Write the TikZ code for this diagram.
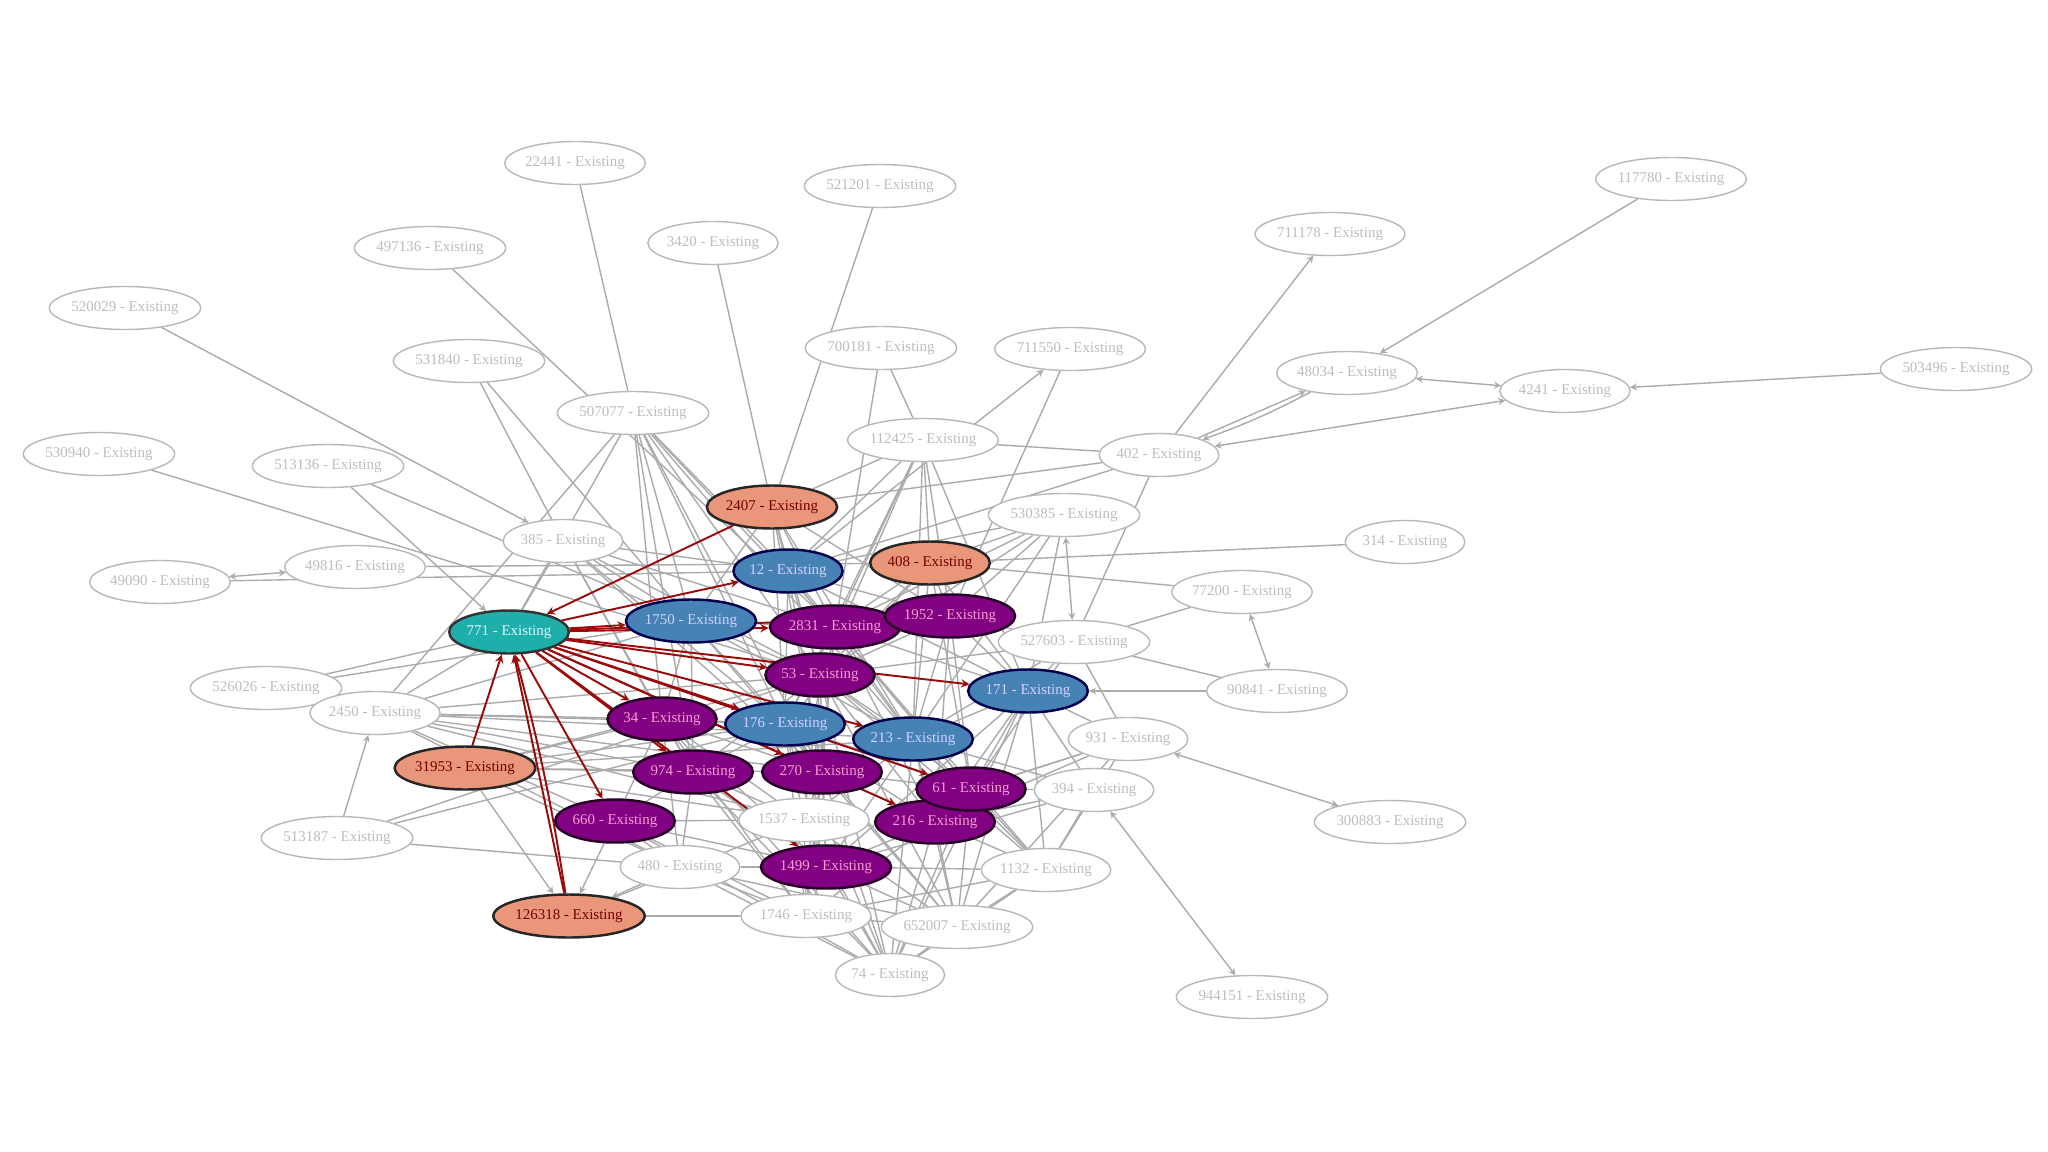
\documentclass[tikz,border=0pt]{standalone}
\usepackage{fontspec}
\setmainfont{Liberation Serif}
\usepackage{tikz}
\usetikzlibrary{arrows.meta, shapes.geometric, backgrounds}
\definecolor{linkGray}{HTML}{ABABAB}
\definecolor{idleText}{HTML}{BDBDBD}
\definecolor{idleLine}{HTML}{B8B8B8}
\definecolor{rootFill}{HTML}{1FAEAA}
\definecolor{salmonFill}{HTML}{E9967A}
\definecolor{steelFill}{HTML}{4682B4}
\definecolor{plumFill}{HTML}{820082}
\definecolor{redLink}{HTML}{9A0A0A}
\tikzstyle{gNode} = [ellipse, inner sep=0pt, minimum height=0.86cm, font=\fontsize{8.5}{10}\selectfont]
\tikzstyle{gIdle} = [gNode, draw=idleLine, fill=white, text=idleText, line width=0.8pt]
\tikzstyle{gRoot} = [gNode, draw=black!80, fill=rootFill, text=cyan!12, line width=1.4pt]
\tikzstyle{gSalmon} = [gNode, draw=black!85, fill=salmonFill, text=red!45!black, line width=1.4pt]
\tikzstyle{gSteel} = [gNode, draw=blue!30!black, fill=steelFill, text=blue!18, line width=1.4pt]
\tikzstyle{gPlum} = [gNode, draw=violet!30!black, fill=plumFill, text=magenta!38, line width=1.4pt]
\tikzstyle{gLink} = [draw=linkGray, line width=0.8pt]
\tikzstyle{gArrow} = [gLink, ->, >=stealth]
\tikzstyle{gBoth} = [gLink, <->, >=stealth]
\tikzstyle{gRed} = [draw=redLink, line width=1.1pt, ->, >=stealth]

\begin{document}
\begin{tikzpicture}[x=0.02cm, y=-0.02cm]
    \useasboundingbox (0,0) rectangle (2048,1152);
    % outer ring
    \node (n22441) [gIdle] at (575,163) {22441 - Existing};
    \node (n521201) [gIdle] at (880,186) {521201 - Existing};
    \node (n3420) [gIdle] at (713,243) {3420 - Existing};
    \node (n497136) [gIdle] at (430,248) {497136 - Existing};
    \node (n520029) [gIdle] at (125,308) {520029 - Existing};
    \node (n531840) [gIdle] at (469,361) {531840 - Existing};
    \node (n507077) [gIdle] at (633,413) {507077 - Existing};
    \node (n700181) [gIdle] at (881,348) {700181 - Existing};
    \node (n711550) [gIdle] at (1070,349) {711550 - Existing};
    \node (n711178) [gIdle] at (1330,234) {711178 - Existing};
    \node (n117780) [gIdle] at (1671,179) {117780 - Existing};
    \node (n48034) [gIdle] at (1347,373) {48034 - Existing};
    \node (n4241) [gIdle] at (1565,391) {4241 - Existing};
    \node (n503496) [gIdle] at (1956,369) {503496 - Existing};
    \node (n112425) [gIdle] at (923,440) {112425 - Existing};
    \node (n402) [gIdle] at (1159,455) {402 - Existing};
    \node (n530940) [gIdle] at (99,454) {530940 - Existing};
    \node (n513136) [gIdle] at (328,466) {513136 - Existing};
    \node (n385) [gIdle] at (563,541) {385 - Existing};
    \node (n530385) [gIdle] at (1064,515) {530385 - Existing};
    \node (n314) [gIdle] at (1405,542) {314 - Existing};
    \node (n49090) [gIdle] at (160,582) {49090 - Existing};
    \node (n49816) [gIdle] at (355,567) {49816 - Existing};
    \node (n77200) [gIdle] at (1242,592) {77200 - Existing};
    \node (n527603) [gIdle] at (1074,642) {527603 - Existing};
    \node (n90841) [gIdle] at (1277,691) {90841 - Existing};
    \node (n526026) [gIdle] at (266,688) {526026 - Existing};
    \node (n2450) [gIdle] at (375,713) {2450 - Existing};
    \node (n931) [gIdle] at (1128,739) {931 - Existing};
    \node (n394) [gIdle] at (1094,790) {394 - Existing};
    \node (n300883) [gIdle] at (1390,822) {300883 - Existing};
    \node (n513187) [gIdle] at (337,838) {513187 - Existing};
    \node (n1537) [gIdle] at (804,820) {1537 - Existing};
    \node (n480) [gIdle] at (680,867) {480 - Existing};
    \node (n1132) [gIdle] at (1046,870) {1132 - Existing};
    \node (n1746) [gIdle] at (806,916) {1746 - Existing};
    \node (n652007) [gIdle] at (957,927) {652007 - Existing};
    \node (n74) [gIdle] at (890,975) {74 - Existing};
    \node (n944151) [gIdle] at (1252,997) {944151 - Existing};
    % highlighted nodes
    \node (n2407) [gSalmon] at (772,507) {2407 - Existing};
    \node (n408) [gSalmon] at (930,563) {408 - Existing};
    \node (n31953) [gSalmon] at (465,768) {31953 - Existing};
    \node (n126318) [gSalmon] at (569,916) {126318 - Existing};
    \node (n12) [gSteel] at (788,571) {12 - Existing};
    \node (n1750) [gSteel] at (691,621) {1750 - Existing};
    \node (n171) [gSteel] at (1028,691) {171 - Existing};
    \node (n176) [gSteel] at (785,724) {176 - Existing};
    \node (n213) [gSteel] at (913,739) {213 - Existing};
    \node (n2831) [gPlum] at (835,627) {2831 - Existing};
    \node (n1952) [gPlum] at (950,616) {1952 - Existing};
    \node (n53) [gPlum] at (820,675) {53 - Existing};
    \node (n34) [gPlum] at (662,719) {34 - Existing};
    \node (n974) [gPlum] at (693,772) {974 - Existing};
    \node (n270) [gPlum] at (822,772) {270 - Existing};
    \node (n216) [gPlum] at (935,822) {216 - Existing};
    \node (n61) [gPlum] at (971,789) {61 - Existing};
    \node (n660) [gPlum] at (615,821) {660 - Existing};
    \node (n1499) [gPlum] at (826,867) {1499 - Existing};
    \node (n771) [gRoot] at (509,632) {771 - Existing};

    \begin{pgfonlayer}{background}
    % outer links
    \draw [gLink] (n22441) -- (n507077);
    \draw [gLink] (n3420) -- (n2407);
    \draw [gLink] (n521201) -- (n2407);
    \draw [gLink] (n497136) -- (n2831);
    \draw [gArrow] (n520029) -- (n385);
    \draw [gLink] (n531840) -- (n385);
    \draw [gLink] (n531840) -- (n1750);
    \draw [gLink] (n530940) -- (n53);
    \draw [gArrow] (n513136) -- (n771);
    \draw [gLink] (n513136) -- (n1750);
    \draw [gBoth] (n49090) -- (n49816);
    \draw [gLink] (n49090) -- (n12);
    \draw [gLink] (n49816) -- (n408);
    \draw [gLink] (n526026) -- (n771);
    \draw [gLink] (n526026) -- (n1750);
    \draw [gArrow] (n513187) -- (n2450);
    \draw [gLink] (n513187) -- (n176);
    \draw [gLink] (n513187) -- (n53);
    \draw [gLink] (n513187) -- (n480);
    \draw [gArrow] (n31953) -- (n126318);
    \draw [gArrow] (n660) -- (n126318);
    \draw [gArrow] (n480) -- (n126318);
    \draw [gArrow] (n402) -- (n711178);
    \draw [gArrow] (n117780) -- (n48034);
    \draw [gBoth] (n48034) -- (n4241);
    \draw [gArrow] (n402) -- (n48034);
    \draw [gArrow] (n48034) to[bend left=4] (n402);
    \draw [gBoth] (n4241) -- (n402);
    \draw [gArrow] (n503496) -- (n4241);
    \draw [gArrow] (n12) -- (n711550);
    \draw [gLink] (n711550) -- (n1952);
    \draw [gLink] (n700181) -- (n112425);
    \draw [gLink] (n700181) -- (n2831);
    \draw [gLink] (n402) -- (n527603);
    \draw [gLink] (n402) -- (n12);
    \draw [gLink] (n402) -- (n112425);
    \draw [gLink] (n402) -- (n2407);
    \draw [gBoth] (n530385) -- (n527603);
    \draw [gLink] (n314) -- (n408);
    \draw [gLink] (n77200) -- (n408);
    \draw [gLink] (n77200) -- (n527603);
    \draw [gBoth] (n77200) -- (n90841);
    \draw [gLink] (n527603) -- (n90841);
    \draw [gArrow] (n90841) -- (n171);
    \draw [gBoth] (n931) -- (n300883);
    \draw [gBoth] (n394) -- (n944151);
    % dense core
    \draw [gLink] (n507077) edge (n34) edge (n1750) edge (n176) edge (n53) edge (n270) edge (n2831) edge (n12) edge (n2450) edge (n974) edge (n213);
    \draw [gLink] (n385) edge (n1750) edge (n34) edge (n12) edge (n2831) edge (n176) edge (n974) edge (n53) edge (n270);
    \draw [gLink] (n2407) edge (n12) edge (n1750) edge (n2831) edge (n53) edge (n176) edge (n1952) edge (n270) edge (n213);
    \draw [gLink] (n112425) edge (n12) edge (n2831) edge (n1952) edge (n53) edge (n171) edge (n2407) edge (n408) edge (n176) edge (n213);
    \draw [gLink] (n530385) edge (n1952) edge (n2831) edge (n408) edge (n171) edge (n12) edge (n53) edge (n213);
    \draw [gLink] (n408) edge (n1952) edge (n171) edge (n53) edge (n2831) edge (n213) edge (n176) edge (n61);
    \draw [gLink] (n12) edge (n1952) edge (n53) edge (n176) edge (n171) edge (n213) edge (n270) edge (n61);
    \draw [gLink] (n1750) edge (n53) edge (n176) edge (n34) edge (n2831) edge (n270) edge (n974) edge (n213);
    \draw [gLink] (n2831) edge (n171) edge (n176) edge (n213) edge (n61) edge (n270) edge (n216);
    \draw [gLink] (n1952) edge (n171) edge (n213) edge (n527603) edge (n61) edge (n53) edge (n216);
    \draw [gLink] (n53) edge (n213) edge (n270) edge (n61) edge (n216) edge (n974) edge (n1537) edge (n1499);
    \draw [gLink] (n171) edge (n213) edge (n61) edge (n216) edge (n1132) edge (n394) edge (n931) edge (n527603) edge (n652007) edge (n1499);
    \draw [gLink] (n34) edge (n974) edge (n660) edge (n1537) edge (n176) edge (n270) edge (n1499) edge (n480);
    \draw [gLink] (n176) edge (n270) edge (n974) edge (n1537) edge (n1499) edge (n216) edge (n61) edge (n1746);
    \draw [gLink] (n213) edge (n61) edge (n216) edge (n1537) edge (n1132) edge (n394) edge (n652007) edge (n1499) edge (n74);
    \draw [gLink] (n974) edge (n660) edge (n1537) edge (n1499) edge (n1746) edge (n480) edge (n74);
    \draw [gLink] (n270) edge (n1537) edge (n216) edge (n1499) edge (n1746) edge (n652007) edge (n74) edge (n61);
    \draw [gLink] (n61) edge (n216) edge (n1132) edge (n394) edge (n931) edge (n652007) edge (n74);
    \draw [gLink] (n216) edge (n1499) edge (n1132) edge (n652007) edge (n74) edge (n1746);
    \draw [gLink] (n660) edge (n480) edge (n1499) edge (n1746) edge (n74) edge (n1537);
    \draw [gLink] (n1537) edge (n1499) edge (n1746) edge (n74) edge (n652007);
    \draw [gLink] (n1499) edge (n1746) edge (n652007) edge (n74) edge (n1132);
    \draw [gLink] (n480) edge (n1746) edge (n74) edge (n1499) edge (n652007);
    \draw [gLink] (n1132) edge (n652007) edge (n74) edge (n1746) edge (n53) edge (n2831);
    \draw [gLink] (n652007) edge (n74) edge (n1746) edge (n53) edge (n176);
    \draw [gLink] (n74) edge (n53) edge (n176) edge (n34) edge (n171);
    \draw [gLink] (n1746) edge (n53) edge (n34) edge (n2831);
    \draw [gLink] (n2450) edge (n771) edge (n34) edge (n974) edge (n660) edge (n1750) edge (n176) edge (n53) edge (n270) edge (n1537) edge (n213) edge (n480);
    \draw [gLink] (n31953) edge (n974) edge (n34) edge (n270) edge (n1537) edge (n213) edge (n176) edge (n480) edge (n53);
    \draw [gLink] (n771) edge (n385) edge (n507077);
    \draw [gLink] (n126318) edge (n1537) edge (n1746);
    \draw [gLink] (n394) edge (n1132) edge (n1499) edge (n216);
    \draw [gLink] (n931) edge (n1132) edge (n216) edge (n652007) edge (n61);
    \draw [gLink] (n527603) edge (n61) edge (n213) edge (n931) edge (n53);
    % red links around 771
    \draw [gRed] (n2407) -- (n771);
    \draw [gRed] (n31953) -- (n771);
    \draw [gRed] (n126318) -- (n771);
    \draw [gRed] (n126318) to[bend right=3] (n771);
    \draw [gRed] (n771) -- (n12);
    \draw [gRed] (n771) -- (n1750);
    \draw [gRed] (n771) -- (n2831);
    \draw [gRed] (n771) -- (n1952);
    \draw [gRed] (n771) -- (n53);
    \draw [gRed] (n771) -- (n171);
    \draw [gRed] (n771) -- (n34);
    \draw [gRed] (n771) -- (n176);
    \draw [gRed] (n771) -- (n213);
    \draw [gRed] (n771) -- (n974);
    \draw [gRed] (n771) -- (n270);
    \draw [gRed] (n771) -- (n61);
    \draw [gRed] (n771) -- (n216);
    \draw [gRed] (n771) -- (n660);
    \draw [gRed] (n771) -- (n1499);
    \end{pgfonlayer}
\end{tikzpicture}
\end{document}
